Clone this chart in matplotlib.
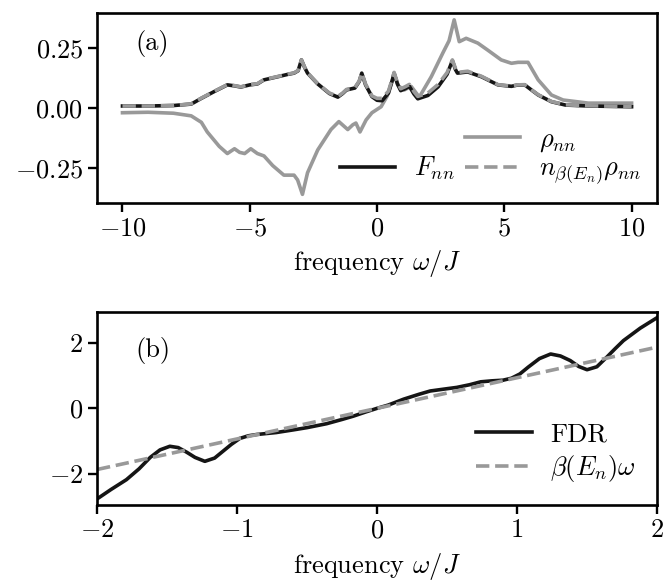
import matplotlib
matplotlib.use("Agg")
import matplotlib.pyplot as plt
from matplotlib.lines import Line2D

plt.rcParams['font.family'] = 'serif'
plt.rcParams['font.serif'] = ['cmr10']
plt.rcParams['mathtext.fontset'] = 'cm'
plt.rcParams['axes.formatter.use_mathtext'] = True
plt.rcParams['font.size'] = 19

# panel (a): spectral quantities vs frequency
omega_F = [-10, -9, -8, -7.3, -6.9, -6.4, -5.88, -5.6, -5.35, -5.0, -4.7, -4.44,
           -3.9, -3.5, -3.26, -3.1, -2.97, -2.85, -2.73, -2.33, -1.87, -1.54,
           -1.35, -1.2, -0.87, -0.7, -0.6, -0.45, -0.2, 0.0, 0.2, 0.45, 0.6,
           0.67, 0.8, 0.93, 1.1, 1.27, 1.45, 1.6, 2.0, 2.4, 2.75, 2.96, 3.08,
           3.16, 3.56, 4.1, 4.75, 5.28, 5.5, 5.8, 6.33, 6.85, 7.4, 8.3, 10]
F_nn = [0.008, 0.008, 0.010, 0.016, 0.040, 0.068, 0.096, 0.092, 0.087, 0.096,
        0.100, 0.117, 0.130, 0.140, 0.145, 0.155, 0.200, 0.170, 0.145, 0.100,
        0.060, 0.045, 0.060, 0.075, 0.083, 0.110, 0.145, 0.096, 0.047, 0.032,
        0.030, 0.062, 0.115, 0.145, 0.100, 0.072, 0.080, 0.090, 0.058, 0.038,
        0.052, 0.088, 0.140, 0.197, 0.160, 0.145, 0.150, 0.130, 0.096, 0.090,
        0.095, 0.096, 0.054, 0.026, 0.012, 0.008, 0.005]
n_rho = [0.008, 0.008, 0.010, 0.017, 0.041, 0.069, 0.097, 0.093, 0.088, 0.097,
         0.101, 0.118, 0.131, 0.141, 0.146, 0.156, 0.200, 0.171, 0.146, 0.101,
         0.062, 0.048, 0.062, 0.077, 0.085, 0.112, 0.146, 0.099, 0.050, 0.040,
         0.040, 0.070, 0.122, 0.148, 0.106, 0.080, 0.088, 0.098, 0.068, 0.048,
         0.062, 0.098, 0.147, 0.200, 0.165, 0.148, 0.153, 0.132, 0.097, 0.091,
         0.096, 0.097, 0.055, 0.027, 0.013, 0.009, 0.006]

omega_rho = [-10, -9, -8, -7.3, -6.9, -6.67, -6.2, -5.88, -5.6, -5.4, -5.2,
             -4.96, -4.7, -4.44, -4.1, -3.66, -3.26, -3.12, -2.93, -2.73, -2.33,
             -1.81, -1.5, -1.15, -0.95, -0.83, -0.67, -0.43, -0.2, 0.16, 0.4,
             0.67, 0.85, 1.07, 1.34, 1.66, 2.13, 2.59, 2.83, 3.03, 3.23, 3.5,
             3.96, 4.36, 4.88, 5.28, 5.54, 5.93, 6.33, 6.85, 7.31, 8.3, 10]
rho_nn = [-0.020, -0.018, -0.022, -0.033, -0.060, -0.100, -0.160, -0.190,
          -0.170, -0.185, -0.190, -0.170, -0.190, -0.200, -0.240, -0.280,
          -0.280, -0.300, -0.360, -0.270, -0.175, -0.090, -0.057, -0.090,
          -0.070, -0.063, -0.100, -0.050, -0.020, 0.005, 0.050, 0.140, 0.090,
          0.075, 0.090, 0.045, 0.130, 0.230, 0.280, 0.367, 0.276, 0.290, 0.270,
          0.240, 0.200, 0.186, 0.190, 0.190, 0.117, 0.054, 0.033, 0.020, 0.020]

# panel (b): fluctuation-dissipation ratio
omega_b = [-2.0, -1.9, -1.79, -1.7, -1.62, -1.55, -1.48, -1.42, -1.36, -1.30,
           -1.23, -1.16, -1.10, -1.04, -0.98, -0.92, -0.86, -0.72, -0.6, -0.5,
           -0.36, -0.25, -0.17, -0.08, 0.0, 0.08, 0.19, 0.3, 0.38, 0.5, 0.57,
           0.66, 0.74, 0.82, 0.9, 0.96, 1.02, 1.08, 1.16, 1.24, 1.31, 1.38,
           1.44, 1.5, 1.57, 1.64, 1.70, 1.76, 1.88, 2.0]
fdr = [-2.77, -2.48, -2.18, -1.85, -1.50, -1.27, -1.16, -1.20, -1.34, -1.50,
       -1.62, -1.52, -1.31, -1.10, -0.92, -0.84, -0.80, -0.74, -0.66, -0.59,
       -0.47, -0.34, -0.24, -0.11, 0.0, 0.10, 0.28, 0.43, 0.53, 0.60, 0.64,
       0.72, 0.81, 0.84, 0.86, 0.92, 1.05, 1.26, 1.52, 1.66, 1.60, 1.46,
       1.28, 1.18, 1.27, 1.56, 1.82, 2.07, 2.45, 2.77]
beta_line_x = [-2.0, 2.0]
beta_line_y = [-1.87, 1.87]

black = '#151515'
gray = '#999999'
lw = 2.6

fig = plt.figure(figsize=(6.71, 5.85), dpi=100)
ax1 = fig.add_axes([0.1446, 0.653, 0.8346, 0.325])
ax2 = fig.add_axes([0.1446, 0.137, 0.8346, 0.330])

ax1.plot(omega_rho, rho_nn, color=gray, lw=lw, label=r'$\rho_{nn}$')
ax1.plot(omega_F, F_nn, color=black, lw=lw, label=r'$F_{nn}$')
ax1.plot(omega_F, n_rho, color=gray, lw=lw, ls='--',
         label=r'$n_{\beta(E_n)}\rho_{nn}$')
ax1.set_ylim(-0.396, 0.396)
ax1.set_xlim(-11, 11)
ax1.set_yticks([-0.25, 0, 0.25])
ax1.set_yticklabels(['$-0.25$', '$0.00$', '$0.25$'])
ax1.set_xticks([-10, -5, 0, 5, 10])
ax1.set_xlabel(r'frequency $\omega/J$', labelpad=5)
ax1.text(0.068, 0.84, '(a)', transform=ax1.transAxes, va='center')

h = ax1.get_legend_handles_labels()[0]
blank = Line2D([], [], alpha=0)
ax1.legend([blank, h[1], h[0], h[2]], ['', r'$F_{nn}$', r'$\rho_{nn}$',
           r'$n_{\beta(E_n)}\rho_{nn}$'], ncol=2, loc='lower right',
           frameon=False, handlelength=2.1, handletextpad=0.7,
           columnspacing=0.4, labelspacing=0.12, borderaxespad=0.2)

ax2.plot(omega_b, fdr, color=black, lw=lw, label='FDR')
ax2.plot(beta_line_x, beta_line_y, color=gray, lw=lw, ls='--',
         label=r'$\beta(E_n)\omega$')
ax2.set_xlim(-2, 2)
ax2.set_ylim(-2.95, 2.95)
ax2.set_yticks([-2, 0, 2])
ax2.set_xticks([-2, -1, 0, 1, 2])
ax2.set_xlabel(r'frequency $\omega/J$', labelpad=6)
ax2.text(0.068, 0.80, '(b)', transform=ax2.transAxes, va='center')
ax2.legend(loc='lower right', frameon=False, handlelength=2.1,
           handletextpad=0.7, labelspacing=0.25, borderaxespad=0.4)

for ax in (ax1, ax2):
    for s in ax.spines.values():
        s.set_linewidth(1.9)
    ax.tick_params(width=1.7, length=6.5, direction='out')

fig.savefig('out.png', dpi=100)
